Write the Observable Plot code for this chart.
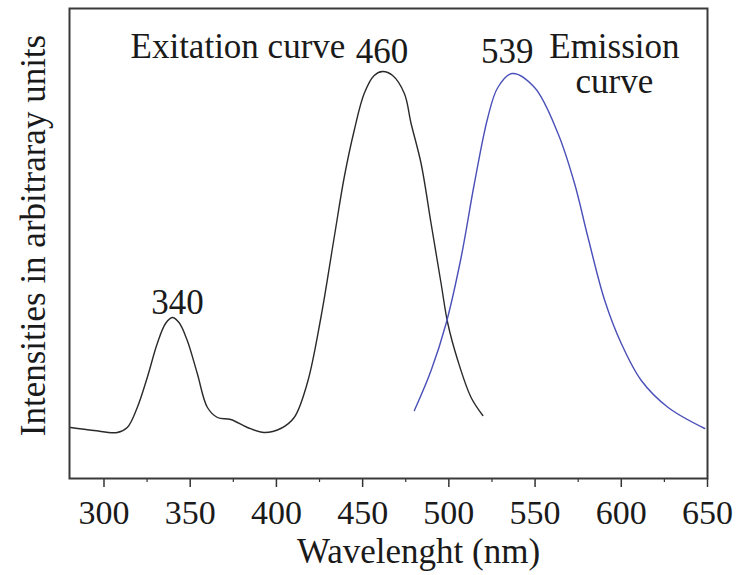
<!DOCTYPE html>
<html>
<head>
<meta charset="utf-8">
<script src="https://cdn.jsdelivr.net/npm/d3@7"></script>
<script src="https://cdn.jsdelivr.net/npm/@observablehq/plot@0.6"></script>
<style>
  html, body { margin: 0; padding: 0; background: #fff; }
  svg, svg text { font-family: "Liberation Serif", "DejaVu Serif", serif !important; }
</style>
</head>
<body>
<div id="chart"></div>
<script>
// Excitation curve (wavelength nm, intensity a.u.)
const excitationWl = [280.5, 294.1, 307.7, 313.5, 319.3, 325.1, 330.9, 335.7, 339.6, 343.5, 348.3, 354.1, 360.0, 365.8, 373.5, 383.2, 392.8, 402.5, 410.3, 418.0, 425.8, 433.5, 439.3, 445.1, 450.9, 456.7, 461.6, 467.4, 474.2, 478.1, 483.9, 489.7, 495.5, 499.4, 505.2, 512.9, 519.7];
const excitationI  = [51, 48, 46, 51, 71, 101, 135, 155, 161, 156, 138, 105, 71, 61, 59, 51, 46, 50, 61, 96, 161, 241, 301, 348, 385, 403, 407, 403, 385, 355, 315, 255, 195, 155, 118, 81, 63];

// Emission curve
const emissionWl = [480.0, 489.7, 498.4, 507.1, 514.8, 522.6, 528.4, 536.7, 549.7, 563.3, 572.9, 580.7, 590.4, 600.0, 611.6, 627.2, 648.4];
const emissionI  = [68, 108, 155, 221, 295, 361, 391, 405, 391, 345, 295, 241, 178, 135, 98, 71, 50];

// Axis ticks
const majorTicks = [300, 350, 400, 450, 500, 550, 600, 650];
const minorTicks = [325, 375, 425, 475, 525, 575, 625];

// Annotations
const peakLabels = ["340", "460", "539"];
const peakWl = [342.7, 461.2, 533.8];
const peakI = [165, 416, 416];

const curveLabels = ["Exitation curve", "Emission\ncurve"];
const curveWl = [315.4, 596];
const curveI = [421, 386];
const curveAnchor = ["start", "middle"];

const xTitle = "Wavelenght (nm)";
const yTitle = "Intensities in arbitraray units";

const exc = excitationWl.map((w, i) => ({w, v: excitationI[i]}));
const em = emissionWl.map((w, i) => ({w, v: emissionI[i]}));
const peaks = peakLabels.map((t, i) => ({t, w: peakWl[i], v: peakI[i]}));
const curves = curveLabels.map((t, i) => ({t, w: curveWl[i], v: curveI[i], a: curveAnchor[i]}));

const FS = 35;
const FF = "'Liberation Serif', 'DejaVu Serif', serif";
const chart = Plot.plot({
  width: 738,
  height: 575,
  marginLeft: 69,
  marginRight: 31,
  marginTop: 8,
  marginBottom: 97,
  style: {fontFamily: FF, background: "#fff", color: "#222"},
  x: {domain: [280, 650], axis: null},
  y: {domain: [0, 470], axis: null},
  marks: [
    Plot.axisX({ticks: majorTicks, tickSize: 9, tickPadding: 12, fontSize: 34, fontFamily: FF, fill: "#1a1a1a", tickFormat: d => String(d), stroke: "#333", strokeWidth: 1.5, label: null}),
    Plot.axisX({ticks: minorTicks, tickSize: 4, tickFormat: () => "", stroke: "#333", strokeWidth: 1.2, label: null}),
    Plot.line(exc, {x: "w", y: "v", stroke: "#2a2a2a", strokeWidth: 1.4, curve: "catmull-rom"}),
    Plot.line(em, {x: "w", y: "v", stroke: "#4a50b8", strokeWidth: 1.4, curve: "catmull-rom"}),
    Plot.text(peaks, {x: "w", y: "v", text: "t", fontSize: FS, fontFamily: FF, fill: "#1a1a1a", textAnchor: "middle", lineAnchor: "bottom"}),
    Plot.text(curves.filter(d => d.a === "start"), {x: "w", y: "v", text: "t", fontSize: FS, fontFamily: FF, fill: "#1a1a1a", textAnchor: "start", lineAnchor: "bottom"}),
    Plot.text(curves.filter(d => d.a === "middle"), {x: "w", y: "v", text: "t", fontSize: FS, fontFamily: FF, fill: "#1a1a1a", textAnchor: "middle", lineAnchor: "bottom", lineHeight: 1}),
    Plot.text([xTitle], {frameAnchor: "bottom", text: d => d, fontSize: FS, fontFamily: FF, fill: "#1a1a1a", lineAnchor: "bottom", dy: 84, dx: 30}),
    Plot.text([yTitle], {frameAnchor: "left", text: d => d, fontSize: FS, fontFamily: FF, fill: "#1a1a1a", rotate: -90, lineAnchor: "bottom", textAnchor: "middle", dx: -25, dy: -8}),
    Plot.frame({stroke: "#3a3a3a", strokeWidth: 2})
  ]
});
document.getElementById("chart").appendChild(chart);
</script>
</body>
</html>
